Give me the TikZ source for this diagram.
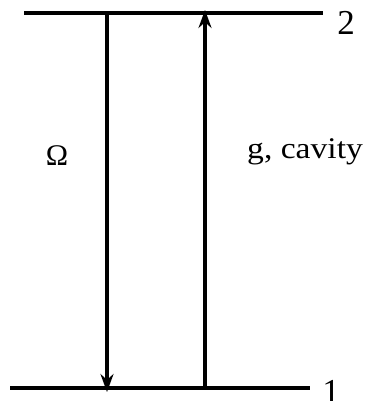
\documentclass[tikz,border=0pt]{standalone}
\usepackage{fontspec}
\setmainfont{Liberation Serif}
\usetikzlibrary{arrows.meta}
\begin{document}
\begin{tikzpicture}[x=1pt,y=-1pt,
  level/.style={line width=4pt},
  trans/.style={line width=3.5pt,-{Stealth[length=18pt,width=13pt,inset=6pt]}},
  lbl/.style={inner sep=0pt,font=\fontsize{30}{32}\selectfont}]
\useasboundingbox (0,0) rectangle (364,401);
\coordinate (t1) at (24,13);
\coordinate (t2) at (323,13);
\coordinate (b1) at (10,388);
\coordinate (b2) at (310,388);
\coordinate (la) at (107,13);
\coordinate (lb) at (107,392);
\coordinate (ra) at (205,388);
\coordinate (rb) at (205,10);
\draw[level] (t1) -- (t2);
\draw[level] (b1) -- (b2);
\draw[trans] (la) -- (lb);
\draw[trans] (ra) -- (rb);
\node[lbl,font=\fontsize{35}{37}\selectfont] (n2) at (346,23) {2};
\node[lbl,font=\fontsize{35}{37}\selectfont,anchor=north] (n1) at (331,380) {1};
\node[lbl,font=\fontsize{30}{32}\selectfont] (om) at (57,156) {Ω};
\node[lbl,anchor=base west,xscale=1.12] (g) at (247,158) {g, cavity};
\end{tikzpicture}
\end{document}
